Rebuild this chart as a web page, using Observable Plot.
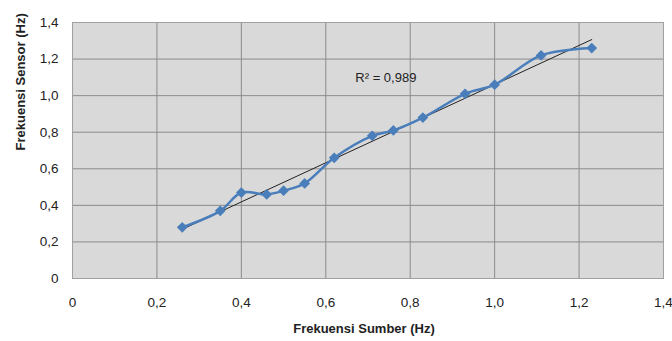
<!DOCTYPE html>
<html><head><meta charset="utf-8">
<script src="https://cdn.jsdelivr.net/npm/d3@7"></script>
<script src="https://cdn.jsdelivr.net/npm/@observablehq/plot@0.6"></script>
<style>body{margin:0;background:#fff}</style>
</head><body><div id="chart"></div>
<script>
const frekuensiSumber = [0.26, 0.35, 0.40, 0.46, 0.50, 0.55, 0.62, 0.71, 0.76, 0.83, 0.93, 1.00, 1.11, 1.23];
const frekuensiSensor = [0.28, 0.37, 0.47, 0.46, 0.48, 0.52, 0.66, 0.78, 0.81, 0.88, 1.01, 1.06, 1.22, 1.26];
const xTicks = [0, 0.2, 0.4, 0.6, 0.8, 1.0, 1.2, 1.4];
const xTickLabels = ["0", "0,2", "0,4", "0,6", "0,8", "1,0", "1,2", "1,4"];
const yTicks = [0, 0.2, 0.4, 0.6, 0.8, 1.0, 1.2, 1.4];
const yTickLabels = ["0", "0,2", "0,4", "0,6", "0,8", "1,0", "1,2", "1,4"];
const r2Label = ["R² = 0,989"];
const r2At = {x: 0.67, y: 1.1};
const xTitle = "Frekuensi Sumber (Hz)";
const yTitle = "Frekuensi Sensor (Hz)";

const data = frekuensiSumber.map((x, i) => ({x, y: frekuensiSensor[i]}));
const blue = "#4a7ebb";

const chart = Plot.plot({
  width: 672,
  height: 341,
  marginLeft: 72,
  marginTop: 22,
  marginRight: 9,
  marginBottom: 63,
  style: {fontFamily: "'Liberation Sans', Arial, sans-serif", fontSize: "13px", color: "#222", background: "#fff"},
  x: {domain: [0, 1.4]},
  y: {domain: [0, 1.4]},
  marks: [
    Plot.frame({fill: "#d9d9d9"}),
    Plot.gridX(xTicks, {stroke: "#8c8c8c", strokeOpacity: 1, strokeWidth: 1}),
    Plot.gridY(yTicks, {stroke: "#8c8c8c", strokeOpacity: 1, strokeWidth: 1}),
    Plot.frame({stroke: "#a0a0a0"}),
    Plot.axisX(xTicks, {tickFormat: (d, i) => xTickLabels[i], tickSize: 0, tickPadding: 19, label: null, fontSize: 13.5}),
    Plot.axisY(yTicks, {tickFormat: (d, i) => yTickLabels[i], tickSize: 0, tickPadding: 14, label: null, fontSize: 13.5}),
    Plot.linearRegressionY(data, {x: "x", y: "y", stroke: "#222", strokeWidth: 1, ci: 0}),
    Plot.line(data, {x: "x", y: "y", stroke: blue, strokeWidth: 2.5, curve: "catmull-rom"}),
    Plot.dot(data, {x: "x", y: "y", symbol: "square", rotate: 45, r: 4.3, fill: blue, stroke: null}),
    Plot.text(r2Label, {x: () => r2At.x, y: () => r2At.y, textAnchor: "start", fontSize: 13, fill: "#222"}),
    Plot.text([xTitle], {frameAnchor: "bottom", dy: 54, dx: -4, fontWeight: "bold", fontSize: 13, fill: "#222"}),
    Plot.text([yTitle], {frameAnchor: "left", dx: -52, rotate: -90, fontWeight: "bold", fontSize: 13, fill: "#222"})
  ]
});
document.getElementById("chart").append(chart);
</script>
</body></html>
